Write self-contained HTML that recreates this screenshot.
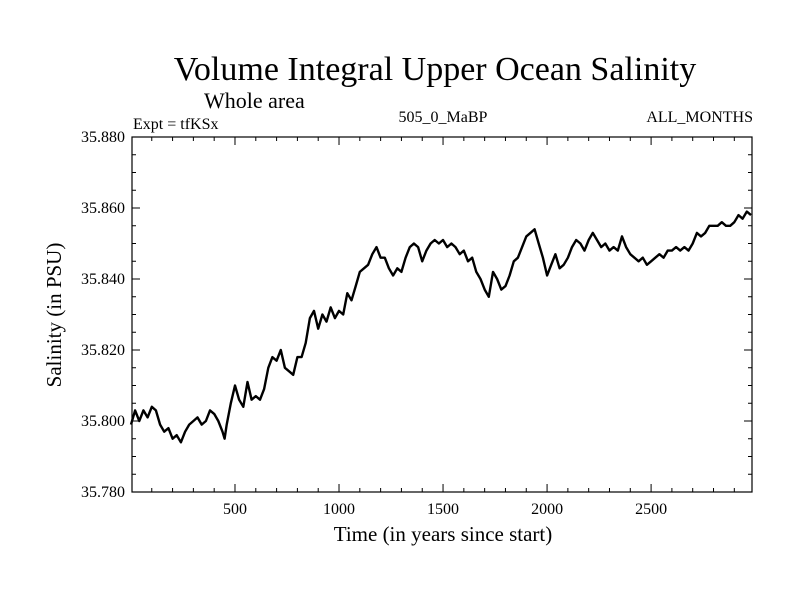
<!DOCTYPE html>
<html><head><meta charset="utf-8"><style>
body{margin:0;background:#fff}
svg text{font-family:"Liberation Serif",serif;fill:#000}
</style></head><body>
<svg id="chart" width="800" height="600" xmlns="http://www.w3.org/2000/svg">
<text x="435" y="80" font-size="34" text-anchor="middle">Volume Integral Upper Ocean Salinity</text>
<text x="204" y="108" font-size="22">Whole area</text>
<text x="133" y="129" font-size="16">Expt = tfKSx</text>
<text x="443" y="122" font-size="16" text-anchor="middle">505_0_MaBP</text>
<text x="753" y="122" font-size="16" text-anchor="end">ALL_MONTHS</text>
<text transform="translate(61,315) rotate(-90)" font-size="21" text-anchor="middle">Salinity (in PSU)</text>
<text x="443" y="541" font-size="21" text-anchor="middle">Time (in years since start)</text>
<g id="axes"></g>
<path id="series" fill="none" stroke="#000" stroke-width="2.4" stroke-linejoin="round"/>
</svg>
<script>
const years=[0,20,40,60,80,100,120,140,160,180,200,220,240,260,280,300,320,340,360,380,400,420,440,450,460,480,500,520,540,560,580,600,620,640,660,680,700,720,740,760,780,800,820,840,860,880,900,920,940,960,980,1000,1020,1040,1060,1080,1100,1120,1140,1160,1180,1200,1220,1240,1260,1280,1300,1320,1340,1360,1380,1400,1420,1440,1460,1480,1500,1520,1540,1560,1580,1600,1620,1640,1660,1680,1700,1720,1740,1760,1780,1800,1820,1840,1860,1880,1900,1920,1940,1960,1980,2000,2020,2040,2060,2080,2100,2120,2140,2160,2180,2200,2220,2240,2260,2280,2300,2320,2340,2360,2380,2400,2420,2440,2460,2480,2500,2520,2540,2560,2580,2600,2620,2640,2660,2680,2700,2720,2740,2760,2780,2800,2820,2840,2860,2880,2900,2920,2940,2960,2980];
const salinity=[35.799,35.803,35.800,35.803,35.801,35.804,35.803,35.799,35.797,35.798,35.795,35.796,35.794,35.797,35.799,35.800,35.801,35.799,35.800,35.803,35.802,35.800,35.797,35.795,35.799,35.805,35.810,35.806,35.804,35.811,35.806,35.807,35.806,35.809,35.815,35.818,35.817,35.820,35.815,35.814,35.813,35.818,35.818,35.822,35.829,35.831,35.826,35.830,35.828,35.832,35.829,35.831,35.830,35.836,35.834,35.838,35.842,35.843,35.844,35.847,35.849,35.846,35.846,35.843,35.841,35.843,35.842,35.846,35.849,35.850,35.849,35.845,35.848,35.850,35.851,35.850,35.851,35.849,35.850,35.849,35.847,35.848,35.845,35.846,35.842,35.840,35.837,35.835,35.842,35.840,35.837,35.838,35.841,35.845,35.846,35.849,35.852,35.853,35.854,35.850,35.846,35.841,35.844,35.847,35.843,35.844,35.846,35.849,35.851,35.850,35.848,35.851,35.853,35.851,35.849,35.850,35.848,35.849,35.848,35.852,35.849,35.847,35.846,35.845,35.846,35.844,35.845,35.846,35.847,35.846,35.848,35.848,35.849,35.848,35.849,35.848,35.850,35.853,35.852,35.853,35.855,35.855,35.855,35.856,35.855,35.855,35.856,35.858,35.857,35.859,35.858];
const xTickLabels=[500,1000,1500,2000,2500];
const yTickLabels=["35.780","35.800","35.820","35.840","35.860","35.880"];
const L=132,R=752,T=137,B=492,X0=5,X1=2985,Y0=35.78,Y1=35.88;
const sx=v=>L+(v-X0)/(X1-X0)*(R-L);
const sy=v=>B-(v-Y0)/(Y1-Y0)*(B-T);
const NS="http://www.w3.org/2000/svg";
const g=document.getElementById('axes');
function mk(t,a){const e=document.createElementNS(NS,t);for(const k in a)e.setAttribute(k,a[k]);g.appendChild(e);return e;}
const frame=mk('rect',{x:L,y:T,width:R-L,height:B-T,fill:'none',stroke:'#000','stroke-width':1.2});


let tp='';
for(let v=100;v<X1;v+=100){const x=sx(v),len=(v%500===0)?8:4;tp+=`M${x},${B}v${-len}M${x},${T}v${len}`;}
for(let i=1;i<20;i++){const v=Y0+i*0.005,y=sy(v),len=(i%4===0)?8:4;tp+=`M${L},${y}h${len}M${R},${y}h${-len}`;}
const ticks=mk('path',{d:tp,stroke:'#000','stroke-width':1,fill:'none'});


xTickLabels.forEach(v=>{const t=mk('text',{x:sx(v),y:B+22,'font-size':16,'text-anchor':'middle'});t.textContent=v;

});
yTickLabels.forEach(v=>{const t=mk('text',{x:L-7,y:sy(parseFloat(v))+5,'font-size':16,'text-anchor':'end'});t.textContent=v;

});
document.getElementById('series').setAttribute('d',years.map((y,i)=>(i?'L':'M')+sx(y).toFixed(1)+','+sy(salinity[i]).toFixed(1)).join(''));
</script>
</body></html>
